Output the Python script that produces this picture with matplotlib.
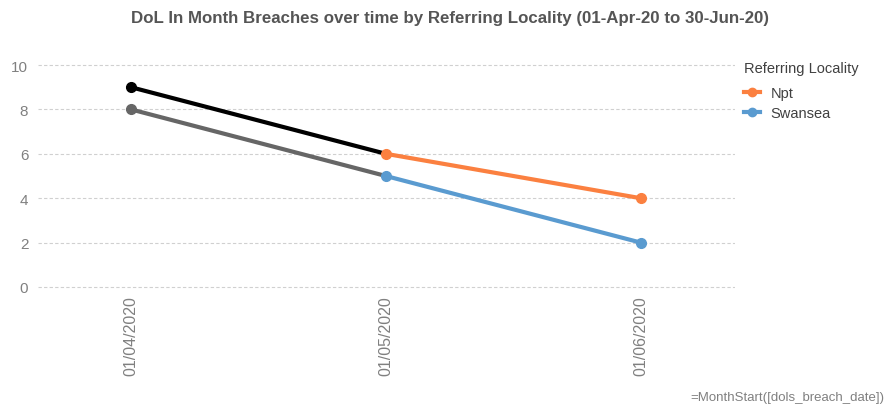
import matplotlib
matplotlib.use("Agg")
import matplotlib.pyplot as plt
from matplotlib.lines import Line2D

months = ["01/04/2020", "01/05/2020", "01/06/2020"]
npt = [9, 6, 4]
swansea = [8, 5, 2]
series_names = ["Npt", "Swansea"]
series_colors = ["#fb8040", "#5a9bd0"]
first_colors = ["#000000", "#666666"]
yticks = [0, 2, 4, 6, 8, 10]

plt.rcParams["font.family"] = ["Liberation Sans", "DejaVu Sans"]

fig = plt.figure(figsize=(8.92, 4.10), dpi=100)
# y = 0 sits at pixel 288, y = 10 at pixel 66; pad 0.1 unit so the gridlines show
ax = fig.add_axes([38 / 892, 1 - 290.2 / 410, (735 - 38) / 892, (290.2 - 63.8) / 410])

x = list(range(len(months)))
for vals, col, fcol in zip([npt, swansea], series_colors, first_colors):
    ax.plot(x[1:], vals[1:], color=col, lw=3, marker="o", ms=7,
            solid_capstyle="round", zorder=3, clip_on=False)
    ax.plot(x[:2], vals[:2], color=fcol, lw=3, solid_capstyle="round",
            zorder=2, clip_on=False)
    ax.plot(x[:1], vals[:1], color=fcol, marker="o", ms=7, zorder=3,
            clip_on=False)

ax.set_xlim(-0.365, 2.37)
ax.set_ylim(-0.1, 10.1)
ax.set_yticks(yticks)
ax.set_xticks(x)
ax.set_xticklabels(months, rotation=90, va="top")
ax.tick_params(axis="both", length=0, colors="#808080", labelsize=11)
ax.tick_params(axis="x", pad=4, labelsize=11.5)
ax.tick_params(axis="y", pad=7)
ax.grid(axis="y", color="#d0d0d0", linestyle=(0, (3, 2)), lw=0.8)
for s in ax.spines.values():
    s.set_visible(False)

fig.text(450 / 892, 1 - 18 / 410, "DoL In Month Breaches over time by Referring Locality (01-Apr-20 to 30-Jun-20)",
         ha="center", va="center", fontsize=12.2, fontweight="bold", color="#555555")

handles = [Line2D([0], [0], color=c, lw=3, marker="o", ms=6) for c in series_colors]
leg = fig.legend(handles, series_names, title="Referring Locality", loc="upper left",
                 bbox_to_anchor=(740 / 892, 1 - 58 / 410), frameon=False, fontsize=10.5,
                 title_fontsize=10.5, handlelength=1.1, handletextpad=0.7,
                 labelspacing=0.4, borderaxespad=0, borderpad=0.3)
leg._legend_box.align = "left"
leg._legend_box.sep = 8
leg.get_title().set_color("#404040")
for t in leg.get_texts():
    t.set_color("#404040")

fig.text(690 / 892, 1 - 398 / 410, "=MonthStart([dols_breach_date])", ha="left", va="center",
         fontsize=9.5, color="#808080")

fig.savefig("out.png", dpi=100)
